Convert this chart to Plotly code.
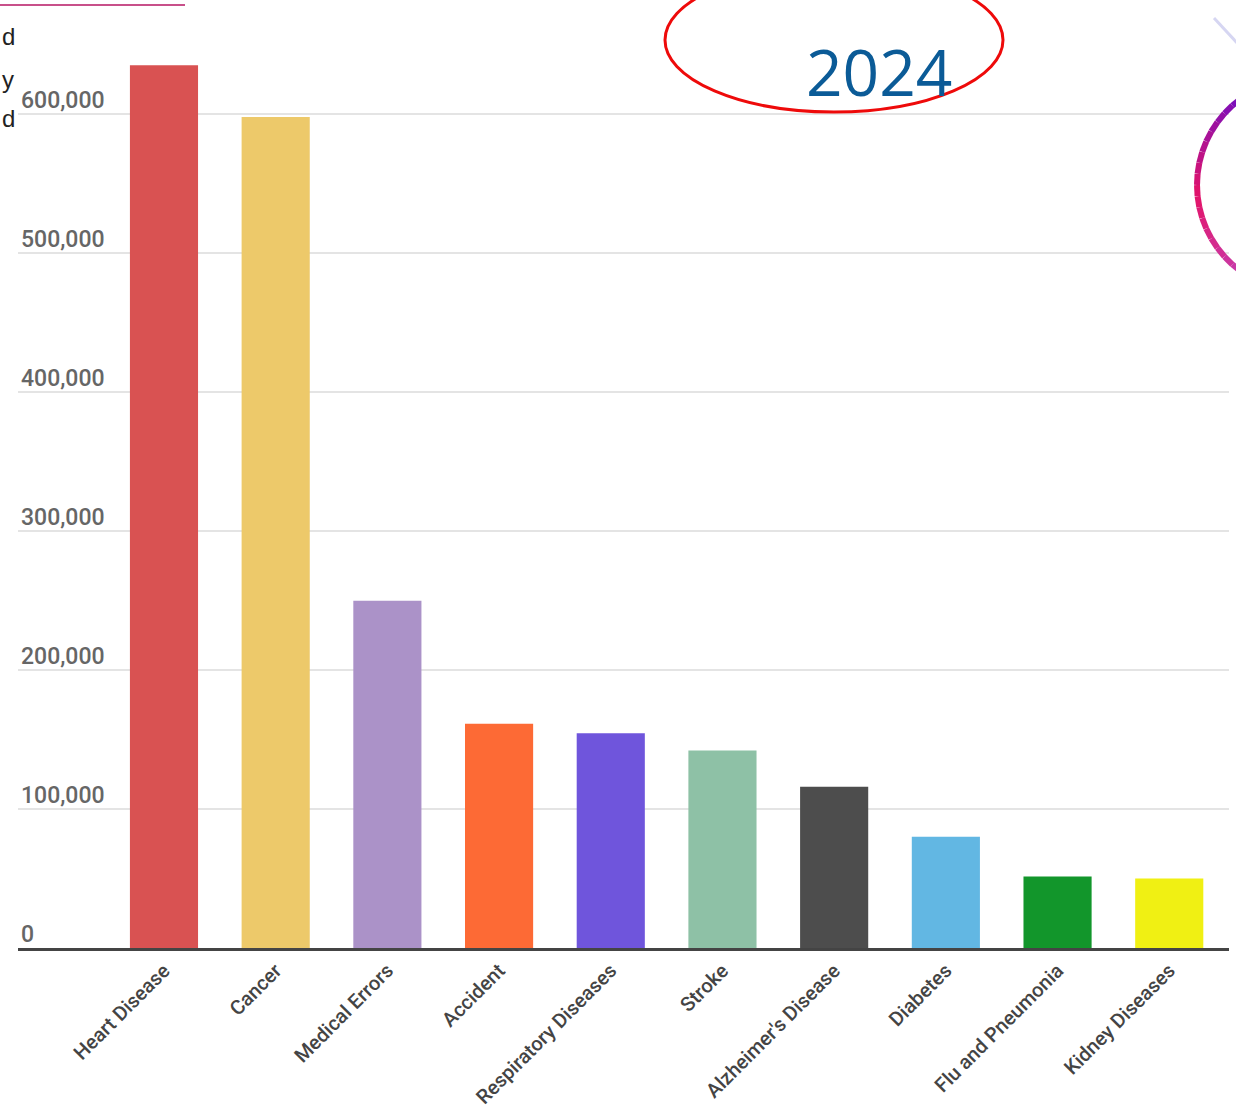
import plotly.graph_objects as go
import numpy as np

categories = ["Heart Disease", "Cancer", "Medical Errors", "Accident", "Respiratory Diseases",
              "Stroke", "Alzheimer's Disease", "Diabetes", "Flu and Pneumonia", "Kidney Diseases"]
deaths = [635260, 598038, 250000, 161374, 154596, 142142, 116103, 80058, 51537, 50046]
bar_colors = ["#d95252", "#edc96a", "#ab92c8", "#fd6a35", "#6f55dc",
              "#8ec1a6", "#4d4d4d", "#62b7e3", "#12962b", "#f0f013"]
y_ticks = [0, 100000, 200000, 300000, 400000, 500000, 600000]
y_tick_labels = ["0", "100,000", "200,000", "300,000", "400,000", "500,000", "600,000"]
year_label = "2024"

W, H = 1236, 1120
L, R_ = 18, 1229
B, T = 948, 31

def px(x):
    return (x - L) / (R_ - L)

def py(y):
    return (B - y) / (B - T)

fig = go.Figure(go.Bar(
    x=categories, y=deaths, marker=dict(color=bar_colors, line=dict(width=0)),
))

shapes = []
# red ellipse
shapes.append(dict(type="circle", xref="paper", yref="paper",
                   x0=px(665), x1=px(1003), y0=py(-32), y1=py(112),
                   line=dict(color="#ee0a0a", width=3), fillcolor="rgba(0,0,0,0)", layer="above"))
# top-left pink rule
shapes.append(dict(type="line", xref="paper", yref="paper",
                   x0=px(0), x1=px(185), y0=py(5), y1=py(5),
                   line=dict(color="#c8508a", width=2)))
# faint lavender arc top right
shapes.append(dict(type="line", xref="paper", yref="paper",
                   x0=px(1214), x1=px(1240), y0=py(18), y1=py(46),
                   line=dict(color="#d6d6f2", width=3)))
# purple-magenta arc on right edge
cx, cy, r = 1304, 185, 107
angs = np.linspace(np.deg2rad(126), np.deg2rad(234), 19)
c_top = np.array([120, 15, 190])
c_mid = np.array([228, 20, 105])
c_bot = np.array([200, 60, 170])
for i in range(len(angs) - 1):
    a0, a1 = angs[i], angs[i + 1]
    t = (i + 0.5) / (len(angs) - 1)
    if t < 0.55:
        c = c_top + (c_mid - c_top) * (t / 0.55)
    else:
        c = c_mid + (c_bot - c_mid) * ((t - 0.55) / 0.45)
    x0p, y0p = cx + r * np.cos(a0), cy - r * np.sin(a0)
    x1p, y1p = cx + r * np.cos(a1), cy - r * np.sin(a1)
    shapes.append(dict(type="line", xref="paper", yref="paper",
                       x0=px(x0p), x1=px(x1p), y0=py(y0p), y1=py(y1p),
                       line=dict(color="rgb(%d,%d,%d)" % tuple(c.astype(int)), width=6)))

annotations = [
    dict(text=year_label, xref="paper", yref="paper", x=px(879), y=py(72),
         xanchor="center", yanchor="middle", showarrow=False,
         font=dict(family="Open Sans", size=64, color="#0b5b97")),
]
for txt, yy in [("d", 36), ("y", 80), ("d", 118)]:
    annotations.append(dict(text=txt, xref="paper", yref="paper", x=px(0), y=py(yy),
                            xanchor="left", yanchor="middle", showarrow=False,
                            font=dict(family="Liberation Sans", size=24, color="#222222")))

fig.update_layout(
    width=W, height=H,
    margin=dict(l=L, r=W - R_, t=T, b=H - B),
    paper_bgcolor="white", plot_bgcolor="white",
    bargap=0.39,
    showlegend=False,
    shapes=shapes,
    annotations=annotations,
    xaxis=dict(range=[-1.307, 9.535], tickangle=-45, automargin=False,
               tickfont=dict(family="Roboto", size=20, color="#444444", weight=500),
               showline=True, linecolor="#444444", linewidth=3,
               ticks="", showgrid=False, fixedrange=True),
    yaxis=dict(range=[0, 660000], tickvals=y_ticks, ticktext=y_tick_labels, automargin=False,
               ticklabelposition="inside", ticklabelshift=-14, ticklabelstandoff=0,
               ticklabeloverflow="allow",
               tickfont=dict(family="Roboto", size=23, color="#666666", weight=500),
               showgrid=True, gridcolor="#e4e4e4", gridwidth=2,
               zeroline=False, showline=False, ticks="", fixedrange=True),
)

fig.write_html("out.html")
